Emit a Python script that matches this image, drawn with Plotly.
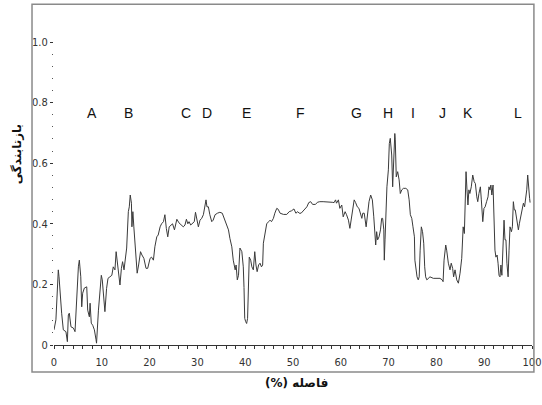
import plotly.graph_objects as go

# Distance (%) along the profile
distance = [
    0.0, 0.4, 0.9, 1.05, 1.6, 1.95, 2.5, 2.8, 3.0, 3.2, 3.55, 4.05, 4.4, 4.75, 5.1, 5.3, 5.6, 5.8, 6.0, 6.35,
    6.85, 7.05, 7.4, 7.55, 7.8, 8.1, 8.45, 8.8, 8.9, 9.3, 9.6, 9.9, 10.1, 10.45, 10.65, 11.0, 11.3, 11.7, 12.1, 12.4,
    12.75, 13.0, 13.25, 13.5, 13.8, 14.1, 14.35, 14.65, 14.85, 15.2, 15.55, 15.75, 15.95, 16.2, 16.3, 16.5, 16.7, 16.95, 17.15, 17.4,
    17.7, 18.1, 18.4, 18.8, 19.25, 19.6, 20.1, 20.4, 20.8, 21.1, 21.5, 21.8, 22.2, 22.5, 22.9, 23.2, 23.5, 23.8, 24.1, 24.5,
    24.8, 25.2, 25.5, 25.7, 26.15, 26.6, 27.05, 27.4, 27.7, 28.0, 28.25, 28.6, 28.95, 29.35, 29.6, 29.9, 30.2, 30.55, 30.9, 31.25,
    31.6, 31.8, 32.0, 32.3, 32.6, 33.0, 33.3, 33.7, 34.2, 34.7, 35.2, 35.6, 35.9, 36.2, 36.5, 36.8, 37.2, 37.5, 37.9, 38.1,
    38.35, 38.6, 38.9, 39.3, 39.6, 39.75, 39.9, 40.1, 40.3, 40.5, 40.65, 40.85, 41.15, 41.4, 41.7, 42.0, 42.25, 42.5, 42.8, 43.1,
    43.4, 43.65, 43.8, 44.1, 44.5, 44.9, 45.2, 45.5, 45.9, 46.2, 46.6, 46.9, 47.3, 48.0, 48.7, 49.2, 49.7, 50.2, 50.6, 51.0,
    51.3, 51.7, 52.0, 52.4, 52.9, 53.3, 53.7, 54.1, 54.7, 55.1, 55.6, 56.3, 57.0, 57.7, 58.2, 58.6, 58.9, 59.1, 59.5, 59.8,
    60.2, 60.5, 60.9, 61.2, 61.6, 61.9, 62.3, 62.6, 62.8, 63.1, 63.45, 63.8, 64.1, 64.4, 64.6, 64.9, 65.3, 65.5, 65.9, 66.25,
    66.6, 66.9, 67.15, 67.3, 67.5, 67.7, 68.0, 68.3, 68.55, 68.75, 69.0, 69.1, 69.25, 69.45, 69.65, 69.95, 70.15, 70.35, 70.65, 70.85,
    71.05, 71.3, 71.4, 71.6, 71.9, 72.2, 72.45, 72.75, 73.1, 73.6, 74.0, 74.3, 74.55, 74.85, 75.1, 75.4, 75.5, 75.75, 75.95, 76.2,
    76.4, 76.6, 76.85, 77.1, 77.35, 77.55, 77.75, 78.0, 78.3, 78.65, 79.35, 80.05, 80.75, 81.2, 81.4, 81.6, 81.95, 82.15, 82.5, 82.85,
    83.1, 83.4, 83.6, 83.9, 84.25, 84.6, 84.95, 85.3, 85.6, 85.85, 86.0, 86.2, 86.4, 86.6, 86.8, 87.0, 87.3, 87.6, 87.9, 88.15,
    88.45, 88.65, 88.9, 89.2, 89.4, 89.7, 89.95, 90.2, 90.5, 90.8, 91.0, 91.2, 91.4, 91.6, 91.85, 92.05, 92.25, 92.45, 92.7, 92.9,
    93.1, 93.3, 93.5, 93.7, 93.9, 94.15, 94.35, 94.55, 94.75, 95.0, 95.2, 95.4, 95.7, 95.9, 96.1, 96.3, 96.5, 96.7, 96.9, 97.15,
    97.35, 97.6, 97.9, 98.2, 98.45, 98.7, 98.9, 99.1, 99.3, 99.5, 99.6,
]

# Reflectance
reflectance = [
    0.05, 0.083, 0.248, 0.225, 0.105, 0.05, 0.044, 0.011, 0.099, 0.105, 0.06, 0.056, 0.044, 0.18, 0.258, 0.28, 0.225, 0.126, 0.171, 0.188,
    0.192, 0.115, 0.093, 0.138, 0.072, 0.065, 0.05, 0.017, 0.006, 0.115, 0.19, 0.23, 0.215, 0.16, 0.11, 0.187, 0.22, 0.225, 0.23, 0.258,
    0.248, 0.308, 0.275, 0.23, 0.198, 0.253, 0.275, 0.248, 0.28, 0.32, 0.44, 0.456, 0.495, 0.468, 0.39, 0.44, 0.39, 0.33, 0.264, 0.237,
    0.264, 0.308, 0.297, 0.286, 0.253, 0.253, 0.286, 0.29, 0.28, 0.324, 0.357, 0.363, 0.39, 0.40, 0.407, 0.43, 0.385, 0.357, 0.39, 0.396,
    0.40, 0.38, 0.40, 0.415, 0.403, 0.396, 0.39, 0.396, 0.415, 0.40, 0.407, 0.396, 0.40, 0.407, 0.438, 0.412, 0.39, 0.412, 0.418, 0.43,
    0.473, 0.479, 0.456, 0.456, 0.43, 0.407, 0.412, 0.43, 0.435, 0.438, 0.435, 0.418, 0.407, 0.396, 0.38, 0.352, 0.324, 0.28, 0.248, 0.264,
    0.215, 0.23, 0.32, 0.308, 0.258, 0.19, 0.088, 0.077, 0.071, 0.088, 0.19, 0.29, 0.28, 0.258, 0.248, 0.308, 0.264, 0.242, 0.264, 0.27,
    0.258, 0.264, 0.336, 0.368, 0.40, 0.407, 0.412, 0.407, 0.418, 0.435, 0.451, 0.448, 0.435, 0.431, 0.431, 0.44, 0.443, 0.449, 0.435, 0.44,
    0.435, 0.435, 0.44, 0.446, 0.456, 0.47, 0.473, 0.464, 0.464, 0.471, 0.473, 0.473, 0.473, 0.471, 0.471, 0.47, 0.479, 0.468, 0.479, 0.451,
    0.462, 0.423, 0.44, 0.43, 0.412, 0.385, 0.423, 0.462, 0.479, 0.47, 0.456, 0.451, 0.43, 0.418, 0.435, 0.435, 0.39, 0.423, 0.473, 0.495,
    0.479, 0.423, 0.38, 0.33, 0.374, 0.347, 0.357, 0.38, 0.418, 0.418, 0.38, 0.28, 0.347, 0.456, 0.522, 0.578, 0.665, 0.682, 0.627, 0.522,
    0.632, 0.698, 0.677, 0.555, 0.572, 0.545, 0.50, 0.512, 0.517, 0.517, 0.512, 0.479, 0.43, 0.418, 0.39, 0.357, 0.28, 0.237, 0.225, 0.215,
    0.225, 0.313, 0.39, 0.374, 0.336, 0.258, 0.225, 0.215, 0.22, 0.225, 0.22, 0.219, 0.22, 0.215, 0.209, 0.28, 0.33, 0.313, 0.27, 0.248,
    0.27, 0.253, 0.225, 0.248, 0.215, 0.204, 0.237, 0.286, 0.39, 0.368, 0.44, 0.572, 0.512, 0.462, 0.512, 0.50, 0.522, 0.561, 0.539, 0.533,
    0.489, 0.473, 0.50, 0.522, 0.479, 0.407, 0.451, 0.456, 0.473, 0.489, 0.522, 0.512, 0.528, 0.495, 0.528, 0.40, 0.313, 0.29, 0.297, 0.27,
    0.23, 0.225, 0.264, 0.23, 0.347, 0.412, 0.347, 0.347, 0.27, 0.225, 0.313, 0.39, 0.374, 0.39, 0.473, 0.446, 0.446, 0.423, 0.407, 0.38,
    0.40, 0.423, 0.44, 0.468, 0.456, 0.484, 0.512, 0.561, 0.506, 0.484, 0.47,
]

# Zone labels
zone_labels = ["A", "B", "C", "D", "E", "F", "G", "H", "I", "J", "K", "L"]
zone_x = [7.9, 15.5, 27.6, 32.0, 40.2, 51.5, 63.2, 69.9, 75.1, 81.2, 86.6, 97.1]
zone_y = 0.766

x_ticks = [0, 10, 20, 30, 40, 50, 60, 70, 80, 90, 100]
y_ticks = [0, 0.2, 0.4, 0.6, 0.8, 1.0]
y_tick_text = ["0", "0.2", "0.4", "0.6", "0.8", "1.0"]

tick_font = dict(family="Liberation Sans Narrow, DejaVu Sans Condensed, Arial Narrow, sans-serif",
                 size=11, color="#333333")

fig = go.Figure()
fig.add_trace(go.Scatter(x=distance, y=reflectance, mode="lines",
                         line=dict(color="#3a3a3a", width=1), showlegend=False,
                         hoverinfo="skip"))

for lab, xv in zip(zone_labels, zone_x):
    fig.add_annotation(x=xv, y=zone_y, xref="x", yref="y", text=lab, showarrow=False,
                       font=dict(family="Liberation Sans, Arial, sans-serif", size=14, color="#111111"))

# axis titles
fig.add_annotation(x=-0.077, y=0.63, xref="paper", yref="paper", text="<b>بازتابندگی</b>",
                   textangle=-90, showarrow=False, xanchor="center", yanchor="middle",
                   font=dict(family="DejaVu Sans, Noto Sans, sans-serif", size=12, color="#111111"))
fig.add_annotation(x=0.508, y=-0.125, xref="paper", yref="paper", text="<b>(%) فاصله</b>",
                   showarrow=False, xanchor="center", yanchor="middle",
                   font=dict(family="DejaVu Sans, Noto Sans, sans-serif", size=12, color="#111111"))

# outer frame
fig.add_shape(type="rect", xref="paper", yref="paper",
              x0=-0.046, x1=1.004, y0=-0.089, y1=1.125,
              line=dict(color="#8a8a8a", width=1.5), fillcolor="rgba(0,0,0,0)")

fig.update_layout(
    width=542, height=405, autosize=False,
    margin=dict(l=54, r=10, t=42, b=60, autoexpand=False),
    paper_bgcolor="white", plot_bgcolor="white",
    xaxis=dict(range=[0, 100], tickvals=x_ticks, ticktext=[str(v) for v in x_ticks],
               automargin=False,
               showgrid=False, zeroline=False, showline=True, linecolor="#333333", linewidth=1,
               ticks="outside", ticklen=3, tickcolor="#333333", tickfont=tick_font,
               ticklabelstandoff=4,
               minor=dict(dtick=2, ticks="outside", ticklen=3, tickcolor="#333333")),
    yaxis=dict(range=[0, 1.0], tickvals=y_ticks, ticktext=y_tick_text,
               automargin=False,
               showgrid=False, zeroline=False, showline=False,
               ticks="outside", ticklen=3, tickcolor="#333333", tickfont=tick_font,
               minor=dict(dtick=0.04, ticks="outside", ticklen=1, tickcolor="#555555")),
)

fig.write_html("out.html", config={"responsive": False, "displayModeBar": False},
               post_script="document.body.style.margin='0';document.body.style.overflow='hidden';")
